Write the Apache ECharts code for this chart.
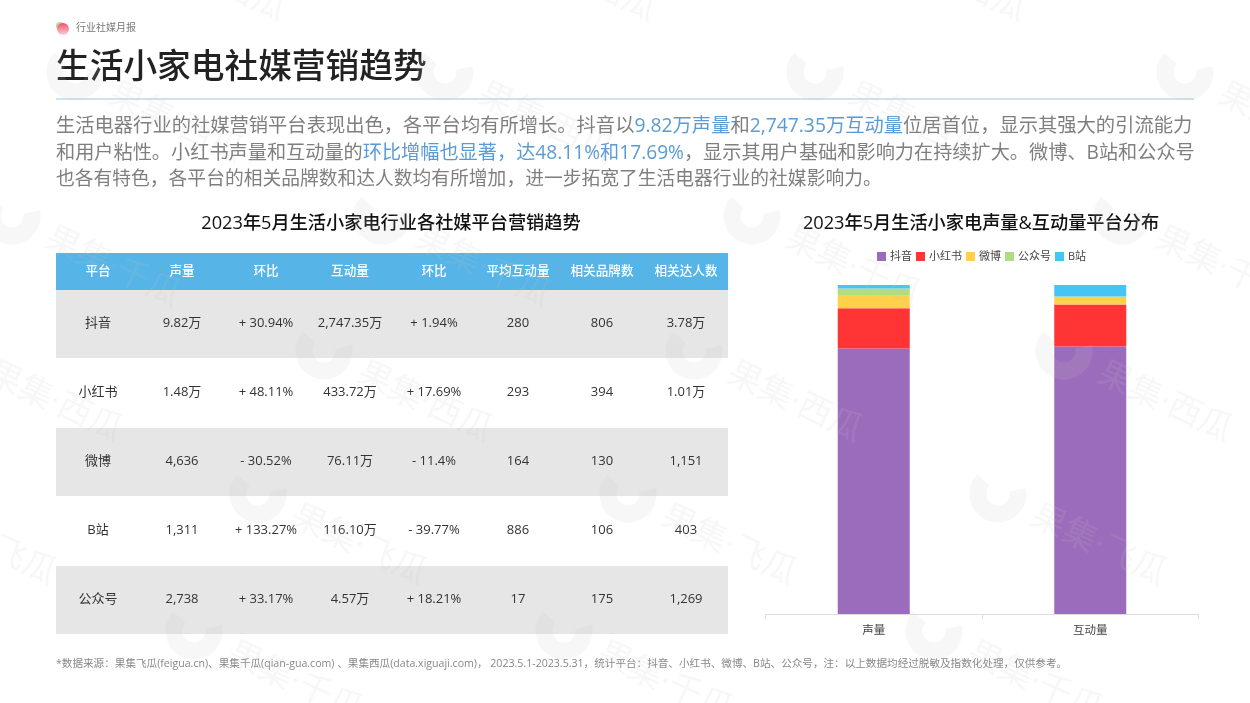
<!DOCTYPE html>
<html>
<head>
<meta charset="utf-8">
<title>生活小家电社媒营销趋势</title>
<style>
html,body{margin:0;padding:0;background:#fff}
#main{width:1250px;height:703px}
</style>
</head>
<body>
<div id="main"></div>
<script src="https://cdn.jsdelivr.net/npm/echarts@6/dist/echarts.min.js"></script>
<script>
// 表格数据
var tableHeader = ['平台','声量','环比','互动量','环比','平均互动量','相关品牌数','相关达人数'];
var platforms = ['抖音','小红书','微博','B站','公众号'];
var voice = ['9.82万','1.48万','4,636','1,311','2,738'];
var voiceMom = ['+ 30.94%','+ 48.11%','- 30.52%','+ 133.27%','+ 33.17%'];
var interact = ['2,747.35万','433.72万','76.11万','116.10万','4.57万'];
var interactMom = ['+ 1.94%','+ 17.69%','- 11.4%','- 39.77%','+ 18.21%'];
var avgInteract = ['280','293','164','886','17'];
var brands = ['806','394','130','106','175'];
var creators = ['3.78万','1.01万','1,151','403','1,269'];

// 堆叠柱数据（占比 %）
var barCategories = ['声量','互动量'];
var douyin = [80.7,81.3];
var xiaohongshu = [12.2,12.8];
var weibo = [3.8,2.3];
var gongzhonghao = [2.2,0.1];
var bilibili = [1.1,3.5];

var FONT = '"Open Sans","Noto Sans CJK SC",sans-serif';
var g = [];

function txt(x,y,text,size,color,align,weight,rich){
	g.push({type:'text',x:x,y:y,silent:true,z:5,style:{
		text:text,font:(weight||'normal')+' '+size+'px '+FONT,fill:color,
		align:align||'left',verticalAlign:'middle',rich:rich
	}});
}
function hl(size){
	return {b:{fill:'#5b9bd5',font:size+'px '+FONT}};
}

// 页眉
g.push({type:'circle',shape:{cx:60,cy:26,r:4},style:{fill:'#b5d99c'},z:4,silent:true});
g.push({type:'circle',shape:{cx:63,cy:29,r:6},style:{fill:new echarts.graphic.LinearGradient(0,0,0,1,[{offset:0,color:'#f0506e'},{offset:1,color:'#fbd0d4'}])},z:4,silent:true});
txt(76,28,'行业社媒月报',10,'#777');
txt(56,68,'生活小家电社媒营销趋势',33.7,'#222','left','500');
g.push({type:'rect',shape:{x:56,y:98.5,width:1138,height:1},style:{fill:'#9cc8e6'},z:4,silent:true});

// 导语
txt(56,127,'生活电器行业的社媒营销平台表现出色，各平台均有所增长。抖音以{b|9.82万声量}和{b|2,747.35万互动量}位居首位，显示其强大的引流能力',19.3,'#7f7f7f','left','normal',hl(19.3));
txt(56,154,'和用户粘性。小红书声量和互动量的{b|环比增幅也显著，达48.11%和17.69%}，显示其用户基础和影响力在持续扩大。微博、B站和公众号',19.18,'#7f7f7f','left','normal',hl(19.18));
txt(56,180,'也各有特色，各平台的相关品牌数和达人数均有所增加，进一步拓宽了生活电器行业的社媒影响力。',18.77,'#7f7f7f');

// 小标题
txt(391,224,'2023年5月生活小家电行业各社媒平台营销趋势',18.2,'#111','center','500');
txt(981,224,'2023年5月生活小家电声量&互动量平台分布',18.2,'#111','center','500');

// 表格
var tableX = 56, colW = 84, headTop = 253, headH = 37, rowTop = 290, rowH = 69;
var columns = [platforms,voice,voiceMom,interact,interactMom,avgInteract,brands,creators];
g.push({type:'rect',shape:{x:tableX,y:headTop,width:colW*8,height:headH},style:{fill:'#56b4e6'},z:1,silent:true});
tableHeader.forEach(function(h,c){
	txt(tableX+colW*(c+0.5),headTop+headH/2-0.5,h,12.6,'#fff','center','500');
});
platforms.forEach(function(p,r){
	if(r%2===0){
		g.push({type:'rect',shape:{x:tableX,y:rowTop+rowH*r,width:colW*8,height:rowH-1},style:{fill:'#e6e6e6'},z:1,silent:true});
	}
	columns.forEach(function(col,c){
		txt(tableX+colW*(c+0.5),rowTop+rowH*r+rowH/2-1,col[r],13,'#333','center');
	});
});

// 脚注
txt(56,664,'*数据来源：果集飞瓜(feigua.cn)、果集千瓜(qian-gua.com) 、果集西瓜(data.xiguaji.com)， 2023.5.1-2023.5.31，统计平台：抖音、小红书、微博、B站、公众号，注：以上数据均经过脱敏及指数化处理，仅供参考。',10.6,'#888');

// 水印
var WM = 'rgba(200,200,200,0.14)';
var wmRows = [[-70,118,'西瓜'],[72,75,'西瓜'],[216,12,'千瓜'],[351,-46,'西瓜'],[494,-112,'飞瓜'],[631,-176,'千瓜']];
wmRows.forEach(function(row){
	for(var x=row[1];x<1300;x+=370){
		g.push({type:'arc',shape:{cx:x,cy:row[0],r:20,startAngle:-0.2,endAngle:3.9,clockwise:true},
			style:{fill:'none',stroke:WM,lineWidth:17},z:50,silent:true});
		g.push({type:'text',x:x+35,y:row[0]+21,rotation:-25*Math.PI/180,silent:true,z:50,
			style:{text:'果集·'+row[2],font:'34px "Open Sans","Noto Sans CJK SC"',fill:WM,verticalAlign:'middle'}});
	}
});

function barSeries(name,data,color){
	return {name:name,type:'bar',stack:'total',barWidth:72,data:data,itemStyle:{color:color}};
}

var chart = echarts.init(document.getElementById('main'));
chart.setOption({
	animation:false,
	backgroundColor:'#fff',
	textStyle:{fontFamily:FONT},
	legend:{
		top:246,left:872,itemWidth:9,itemHeight:9,itemGap:4,icon:'rect',
		textStyle:{fontSize:11,color:'#444',padding:[0,0,0,-1]},
		data:['抖音','小红书','微博','公众号','B站']
	},
	grid:{left:765.5,top:285,width:433,height:329},
	xAxis:{
		type:'category',data:barCategories,
		axisLine:{lineStyle:{color:'#ddd'}},
		axisTick:{show:true,length:5,alignWithLabel:false,lineStyle:{color:'#ddd'}},
		axisLabel:{fontSize:11.5,color:'#444',margin:11}
	},
	yAxis:{type:'value',min:0,max:100,show:false},
	series:[
		barSeries('抖音',douyin,'#9b6cbb'),
		barSeries('小红书',xiaohongshu,'#ff3535'),
		barSeries('微博',weibo,'#ffd04a'),
		barSeries('公众号',gongzhonghao,'#b0dc82'),
		barSeries('B站',bilibili,'#46c5f5')
	],
	graphic:{elements:g}
});
</script>
</body>
</html>
